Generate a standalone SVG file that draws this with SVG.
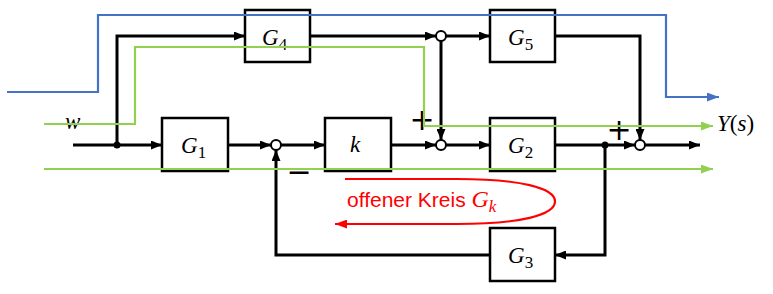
<svg xmlns="http://www.w3.org/2000/svg" width="773" height="294" viewBox="0 0 773 294">
  <style>
    .box { fill: #fff; stroke: #000; stroke-width: 2.5; }
    .wire { fill: none; stroke: #000; stroke-width: 3; }
    .sum { fill: #fff; stroke: #000; stroke-width: 2; }
    .math { font-family: "Liberation Serif", "DejaVu Serif", serif; font-size: 23px; fill: #000; }
    .it { font-style: italic; }
    .sub { font-size: 17px; }
    .sign { font-family: "DejaVu Sans", sans-serif; font-size: 30px; fill: #000; text-anchor: middle; }
    .green { fill: none; stroke: #92D050; stroke-width: 2.2; }
    .blue { fill: none; stroke: #4472C4; stroke-width: 2.2; }
    .red { fill: none; stroke: #FF0000; stroke-width: 2.2; }
  </style>
  <defs>
    <marker id="arrow" markerUnits="userSpaceOnUse" markerWidth="11" markerHeight="9" refX="11" refY="4.5" orient="auto">
      <path d="M0,0 L11,4.5 L0,9 z" fill="#000"/>
    </marker>
    <marker id="arrowGreen" markerUnits="userSpaceOnUse" markerWidth="12" markerHeight="9" refX="12" refY="4.5" orient="auto">
      <path d="M0,0 L12,4.5 L0,9 z" fill="#92D050"/>
    </marker>
    <marker id="arrowBlue" markerUnits="userSpaceOnUse" markerWidth="12" markerHeight="9" refX="12" refY="4.5" orient="auto">
      <path d="M0,0 L12,4.5 L0,9 z" fill="#4472C4"/>
    </marker>
    <marker id="arrowRed" markerUnits="userSpaceOnUse" markerWidth="12" markerHeight="9" refX="12" refY="4.5" orient="auto">
      <path d="M0,0 L12,4.5 L0,9 z" fill="#FF0000"/>
    </marker>
  </defs>

  <!-- signal connectors -->
  <g id="connectors">
    <path class="wire" d="M73,145 H162" marker-end="url(#arrow)"/>
    <path class="wire" d="M117,145 V36 H245" marker-end="url(#arrow)"/>
    <path class="wire" d="M228,145 H271" marker-end="url(#arrow)"/>
    <path class="wire" d="M281,145 H325" marker-end="url(#arrow)"/>
    <path class="wire" d="M391,145 H436" marker-end="url(#arrow)"/>
    <path class="wire" d="M310,36 H436" marker-end="url(#arrow)"/>
    <path class="wire" d="M446,36 H490" marker-end="url(#arrow)"/>
    <path class="wire" d="M441,41 V140" marker-end="url(#arrow)"/>
    <path class="wire" d="M446,145 H490" marker-end="url(#arrow)"/>
    <path class="wire" d="M555,145 H635" marker-end="url(#arrow)"/>
    <path class="wire" d="M555,36 H640 V140" marker-end="url(#arrow)"/>
    <path class="wire" d="M645,145 H700" marker-end="url(#arrow)"/>
    <path class="wire" d="M605,145 V255 H555" marker-end="url(#arrow)"/>
    <path class="wire" d="M490,255 H276 V150" marker-end="url(#arrow)"/>
    <circle cx="117" cy="145" r="3.5" fill="#000"/>
    <circle cx="605" cy="145" r="3.5" fill="#000"/>
  </g>

  <!-- transfer blocks -->
  <g id="G1">
    <rect class="box" x="162" y="118" width="66" height="53"/>
    <text class="math" x="181" y="153"><tspan class="it">G</tspan><tspan class="sub" dy="5">1</tspan></text>
  </g>
  <g id="k">
    <rect class="box" x="325" y="118" width="66" height="53"/>
    <text class="math it" x="350" y="152" font-size="25">k</text>
  </g>
  <g id="G2">
    <rect class="box" x="490" y="118" width="65" height="53"/>
    <text class="math" x="508" y="153"><tspan class="it">G</tspan><tspan class="sub" dy="5">2</tspan></text>
  </g>
  <g id="G3">
    <rect class="box" x="490" y="228" width="65" height="53"/>
    <text class="math" x="508" y="263"><tspan class="it">G</tspan><tspan class="sub" dy="5">3</tspan></text>
  </g>
  <g id="G4">
    <rect class="box" x="245" y="10" width="65" height="52"/>
    <text class="math" x="262" y="45"><tspan class="it">G</tspan><tspan class="sub" dy="5">4</tspan></text>
  </g>
  <g id="G5">
    <rect class="box" x="490" y="10" width="65" height="52"/>
    <text class="math" x="508" y="45"><tspan class="it">G</tspan><tspan class="sub" dy="5">5</tspan></text>
  </g>

  <!-- summing points -->
  <g id="sum1"><circle class="sum" cx="276" cy="145" r="5"/></g>
  <g id="sum2"><circle class="sum" cx="441" cy="145" r="5"/></g>
  <g id="sum3"><circle class="sum" cx="441" cy="36" r="5"/></g>
  <g id="sum4"><circle class="sum" cx="640" cy="145" r="5"/></g>

  <!-- signs at summing points -->
  <text class="sign" x="422" y="130">+</text>
  <text class="sign" x="619" y="140">+</text>
  <text class="sign" x="299" y="182">−</text>

  <!-- signal names -->
  <text class="math it" x="65" y="129" font-size="25">w</text>
  <text class="math" x="717" y="131" font-size="25"><tspan class="it">Y</tspan>(<tspan class="it">s</tspan>)</text>

  <!-- signal paths -->
  <g id="paths">
    <path class="blue" d="M7,92 H98 V15 H666 V97 H719" marker-end="url(#arrowBlue)"/>
    <path class="green" d="M44,124 H135 V47 H424 V126 H713" marker-end="url(#arrowGreen)"/>
    <path class="green" d="M44,169 H713" marker-end="url(#arrowGreen)"/>
  </g>

  <!-- open loop marking -->
  <g id="openLoop">
    <path class="red" d="M345,179 H457 C520,179 555,188 555,201.5 C555,215 520,224 457,224 H335" marker-end="url(#arrowRed)"/>
    <text x="347" y="207" font-family="Liberation Sans, Arial, sans-serif" font-size="21" fill="#FF0000">offener Kreis <tspan font-family="Liberation Serif, serif" font-style="italic" font-size="24">G</tspan><tspan font-family="Liberation Serif, serif" font-style="italic" font-size="17" dy="5">k</tspan></text>
  </g>
</svg>
